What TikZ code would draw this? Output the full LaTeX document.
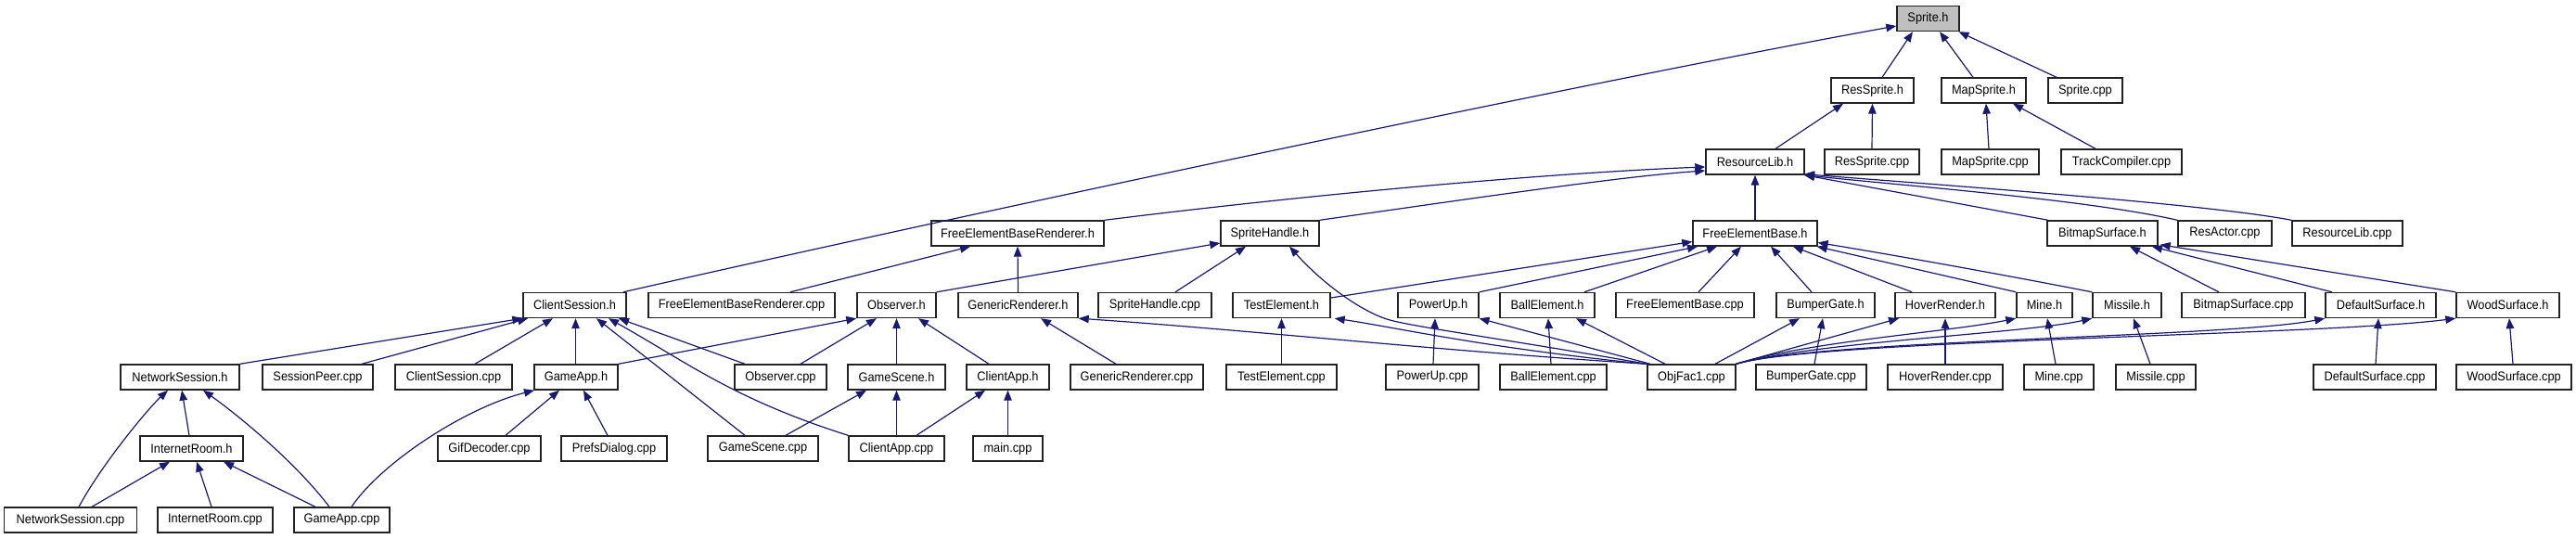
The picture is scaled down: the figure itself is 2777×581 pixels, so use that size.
\documentclass[tikz,border=0pt]{standalone}
\usepackage{fontspec}
\setmainfont{Liberation Sans}
\usetikzlibrary{arrows.meta}
\definecolor{edgecol}{HTML}{191970}
\definecolor{rootfill}{HTML}{BFBFBF}
\definecolor{boxline}{HTML}{222222}
\newcommand\bx[6][]{\node[box,minimum width=#5pt,#1] (#2) at (#3,#4) {\scalebox{1}[1.08]{#6}};}
\newcommand\ed[4]{\draw[e] ([xshift=#2pt]#1.north) -- ([xshift=#4pt]#3.south);}
\begin{document}
\begin{tikzpicture}[x=1pt,y=-1pt,
  box/.style={draw=boxline,line width=1.4pt,fill=white,minimum height=27pt,inner sep=0pt,
    font=\fontsize{12.8}{14}\selectfont},
  e/.style={draw=edgecol,line width=1.2pt,-{Triangle[length=11pt,width=8.5pt]}}]
\useasboundingbox (0,0) rectangle (2777,581);
% row 0
\bx[fill=rootfill]{Sprite}{2078.5}{20}{67}{Sprite.h}
% row 1
\bx{ResSpriteH}{2018.5}{97.5}{89}{ResSprite.h}
\bx{MapSpriteH}{2138.5}{97.5}{91}{MapSprite.h}
\bx{SpriteC}{2248}{97.5}{80}{Sprite.cpp}
% row 2
\bx{ResLibH}{1892}{174.5}{106}{ResourceLib.h}
\bx{ResSpriteC}{2018}{174.5}{102}{ResSprite.cpp}
\bx{MapSpriteC}{2145.5}{174.5}{105}{MapSprite.cpp}
\bx{TrackC}{2287}{174.5}{130}{TrackCompiler.cpp}
% row 3
\bx{FEBRH}{1097}{251.5}{186}{FreeElementBaseRenderer.h}
\bx{SHH}{1369}{251.5}{106}{SpriteHandle.h}
\bx{FEBH}{1892}{251.5}{134}{FreeElementBase.h}
\bx{BSH}{2266.5}{251.5}{119}{BitmapSurface.h}
\bx{ResActorC}{2398.5}{251.5}{101}{ResActor.cpp}
\bx{ResLibC}{2530.5}{251.5}{119}{ResourceLib.cpp}
% row 4
\bx{CSH}{619.5}{329}{111}{ClientSession.h}
\bx{FEBRC}{799.5}{329}{201}{FreeElementBaseRenderer.cpp}
\bx{ObsH}{966.5}{329}{85}{Observer.h}
\bx{GRH}{1097.5}{329}{129}{GenericRenderer.h}
\bx{SHC}{1245}{329}{122}{SpriteHandle.cpp}
\bx{TEH}{1381.5}{329}{105}{TestElement.h}
\bx{PUH}{1550.5}{329}{87}{PowerUp.h}
\bx{BEH}{1668}{329}{102}{BallElement.h}
\bx{FEBC}{1816.5}{329}{149}{FreeElementBase.cpp}
\bx{BGH}{1968}{329}{106}{BumperGate.h}
\bx{HRH}{2097}{329}{108}{HoverRender.h}
\bx{MineH}{2204}{329}{60}{Mine.h}
\bx{MisH}{2293}{329}{74}{Missile.h}
\bx{BSC}{2418.5}{329}{133}{BitmapSurface.cpp}
\bx{DSH}{2566.5}{329}{119}{DefaultSurface.h}
\bx{WSH}{2703.5}{329}{111}{WoodSurface.h}
% row 5
\bx{NSH}{194}{406.5}{128}{NetworkSession.h}
\bx{SPC}{342.5}{406.5}{119}{SessionPeer.cpp}
\bx{CSC}{489}{406.5}{126}{ClientSession.cpp}
\bx{GAH}{621}{406.5}{90}{GameApp.h}
\bx{ObsC}{841.5}{406.5}{99}{Observer.cpp}
\bx{GSH}{966.5}{406.5}{105}{GameScene.h}
\bx{CAH}{1086.5}{406.5}{89}{ClientApp.h}
\bx{GRC}{1225.5}{406.5}{143}{GenericRenderer.cpp}
\bx{TEC}{1381.5}{406.5}{119}{TestElement.cpp}
\bx{PUC}{1544}{406.5}{100}{PowerUp.cpp}
\bx{BEC}{1674.5}{406.5}{115}{BallElement.cpp}
\bx{OF}{1823.5}{406.5}{95}{ObjFac1.cpp}
\bx{BGC}{1952.5}{406.5}{119}{BumperGate.cpp}
\bx{HRC}{2097}{406.5}{124}{HoverRender.cpp}
\bx{MineC}{2219.5}{406.5}{75}{Mine.cpp}
\bx{MisC}{2324}{406.5}{86}{Missile.cpp}
\bx{DSC}{2560}{406.5}{132}{DefaultSurface.cpp}
\bx{WSC}{2710}{406.5}{124}{WoodSurface.cpp}
% row 6
\bx{IRH}{206.5}{483.5}{111}{InternetRoom.h}
\bx{GifC}{527.5}{483.5}{111}{GifDecoder.cpp}
\bx{PrefC}{662}{483.5}{114}{PrefsDialog.cpp}
\bx{GSC}{822.5}{483.5}{119}{GameScene.cpp}
\bx{CAC}{966.5}{483.5}{103}{ClientApp.cpp}
\bx{MainC}{1086.5}{483.5}{75}{main.cpp}
% row 7
\bx{NSC}{76}{560.5}{143}{NetworkSession.cpp}
\bx{IRC}{232}{560.5}{124}{InternetRoom.cpp}
\bx{GAC}{368.5}{560.5}{103}{GameApp.cpp}

% ---- edges ----
\ed{ResSpriteH}{10.5}{Sprite}{-16.5}
\ed{MapSpriteH}{-11.5}{Sprite}{12.5}
\ed{SpriteC}{-31}{Sprite}{33}
\draw[e] ([xshift=52.5pt]CSH.north) .. controls (1000,240) and (1700,90) .. ([yshift=-8pt]Sprite.west);
\ed{ResLibH}{22}{ResSpriteH}{-31.5}
\ed{ResSpriteC}{0}{ResSpriteH}{0}
\ed{MapSpriteC}{-1.5}{MapSpriteH}{2.5}
\ed{TrackC}{-28}{MapSpriteH}{31.5}
\draw[e] (FEBRH.north east) .. controls (1450,205) and (1700,185) .. ([yshift=-5.5pt]ResLibH.west);
\draw[e] (SHH.north east) .. controls (1600,212) and (1750,190) .. ([yshift=-9.5pt]ResLibH.west);
\ed{FEBH}{0}{ResLibH}{0}
\ed{BSH}{-58.5}{ResLibH}{53}
\draw[e] (ResActorC.north west) .. controls (2250,215) and (2050,200) .. ([xshift=53pt]ResLibH.south);
\draw[e] (ResLibC.north west) .. controls (2380,220) and (2100,200) .. ([xshift=53pt,yshift=1pt]ResLibH.south);
\ed{FEBRC}{52.5}{FEBRH}{-51}
\ed{GRH}{0}{FEBRH}{0}
\draw[e] (ObsH.north east) -- ([yshift=-10.5pt]SHH.west);
\ed{SHC}{22}{SHH}{-26}
\draw[e] (OF.north west) .. controls (1620,365) and (1520,352) .. (1495,344) .. controls (1470,336) and (1430,310) .. ([xshift=21pt]SHH.south);
\draw[e] (GAH.north east) -- (ObsH.south west);
\ed{ObsC}{21.5}{ObsH}{-21.5}
\ed{GSH}{0}{ObsH}{0}
\ed{CAH}{-20.5}{ObsH}{23.5}
\ed{GRC}{-22.5}{GRH}{24.5}
\draw[e] (OF.north west) .. controls (1550,378) and (1350,356) .. (GRH.south east);
\ed{TEC}{0}{TEH}{0}
\draw[e] ([xshift=-1pt]OF.north west) .. controls (1600,375) and (1500,352) .. ([xshift=4pt]TEH.south east);
\ed{OF}{-44.5}{PUH}{44}
\ed{OF}{-28.5}{BEH}{31}
\ed{OF}{25.5}{BGH}{-28}
\ed{BGC}{3.5}{BGH}{-3}
\ed{OF}{47.5}{HRH}{-50}
\draw[e] (OF.north east) .. controls (1950,368) and (2100,358) .. (MineH.south west);
\draw[e] (OF.north east) .. controls (1960,368) and (2180,360) .. (MisH.south west);
\draw[e] (OF.north east) .. controls (1960,366) and (2400,364) .. (DSH.south west);
\draw[e] (OF.north east) .. controls (1960,366) and (2500,362) .. (WSH.south west);
\ed{HRC}{0}{HRH}{0}
\ed{MineC}{-3.5}{MineH}{3}
\ed{MisC}{-6}{MisH}{7}
\ed{DSC}{1}{DSH}{-2.5}
\ed{WSC}{-1}{WSH}{1.5}
\ed{BSC}{-26.5}{BSH}{29.5}
\ed{DSH}{-52.5}{BSH}{53.5}
\draw[e] (WSH.north west) -- ([xshift=2pt,yshift=2pt]BSH.south east);
% FreeElementBase.h children
\draw[e] ([yshift=8pt]TEH.east) -- ([yshift=-9pt]FEBH.west);
\draw[e] (PUH.north east) -- ([xshift=-62pt]FEBH.south);
\ed{BEH}{40}{FEBH}{-41}
\ed{FEBC}{14.5}{FEBH}{-15}
\ed{BGH}{-15}{FEBH}{17}
\ed{HRH}{-36}{FEBH}{41}
\draw[e] (MineH.north west) -- ([xshift=-1pt]FEBH.south east);
\draw[e] (MisH.north west) .. controls (2180,300) and (2060,278) .. ([yshift=-10pt]FEBH.east);
% ClientSession.h children
\draw[e] (NSH.north east) -- (CSH.south west);
\ed{SPC}{47.5}{CSH}{-50.5}
\ed{CSC}{23}{CSH}{-23.5}
\ed{GAH}{-0.5}{CSH}{1}
\ed{ObsC}{-38.5}{CSH}{47.5}
\draw[e] (CAC.north west) .. controls (790,430) and (740,390) .. ([xshift=36.5pt]CSH.south);
\ed{GSC}{-19.5}{CSH}{23.5}
% lower left
\ed{GSC}{24.5}{GSH}{-32.5}
\ed{CAC}{0}{GSH}{0}
\ed{CAC}{21.5}{CAH}{-24.5}
\ed{MainC}{0}{CAH}{0}
\ed{PUC}{1}{PUH}{-3.5}
\ed{BEC}{-2.5}{BEH}{1}
\draw[e] ([xshift=9pt]NSC.north) .. controls (110,500) and (160,440) .. ([xshift=-13pt]NSH.south);
\ed{IRH}{-2.5}{NSH}{2}
\draw[e] ([xshift=-13.5pt]GAC.north) .. controls (320,500) and (260,450) .. ([xshift=25pt]NSH.south);
\ed{NSC}{23}{IRH}{-23.5}
\ed{IRC}{-4}{IRH}{5.5}
\ed{GAC}{-28.5}{IRH}{34.5}
\draw[e] ([xshift=10.5pt]GAC.north) .. controls (410,500) and (500,440) .. ([xshift=-45pt]GAH.south);
\ed{GifC}{17.5}{GAH}{-18}
\ed{PrefC}{-7}{GAH}{8}
\end{tikzpicture}
\end{document}
